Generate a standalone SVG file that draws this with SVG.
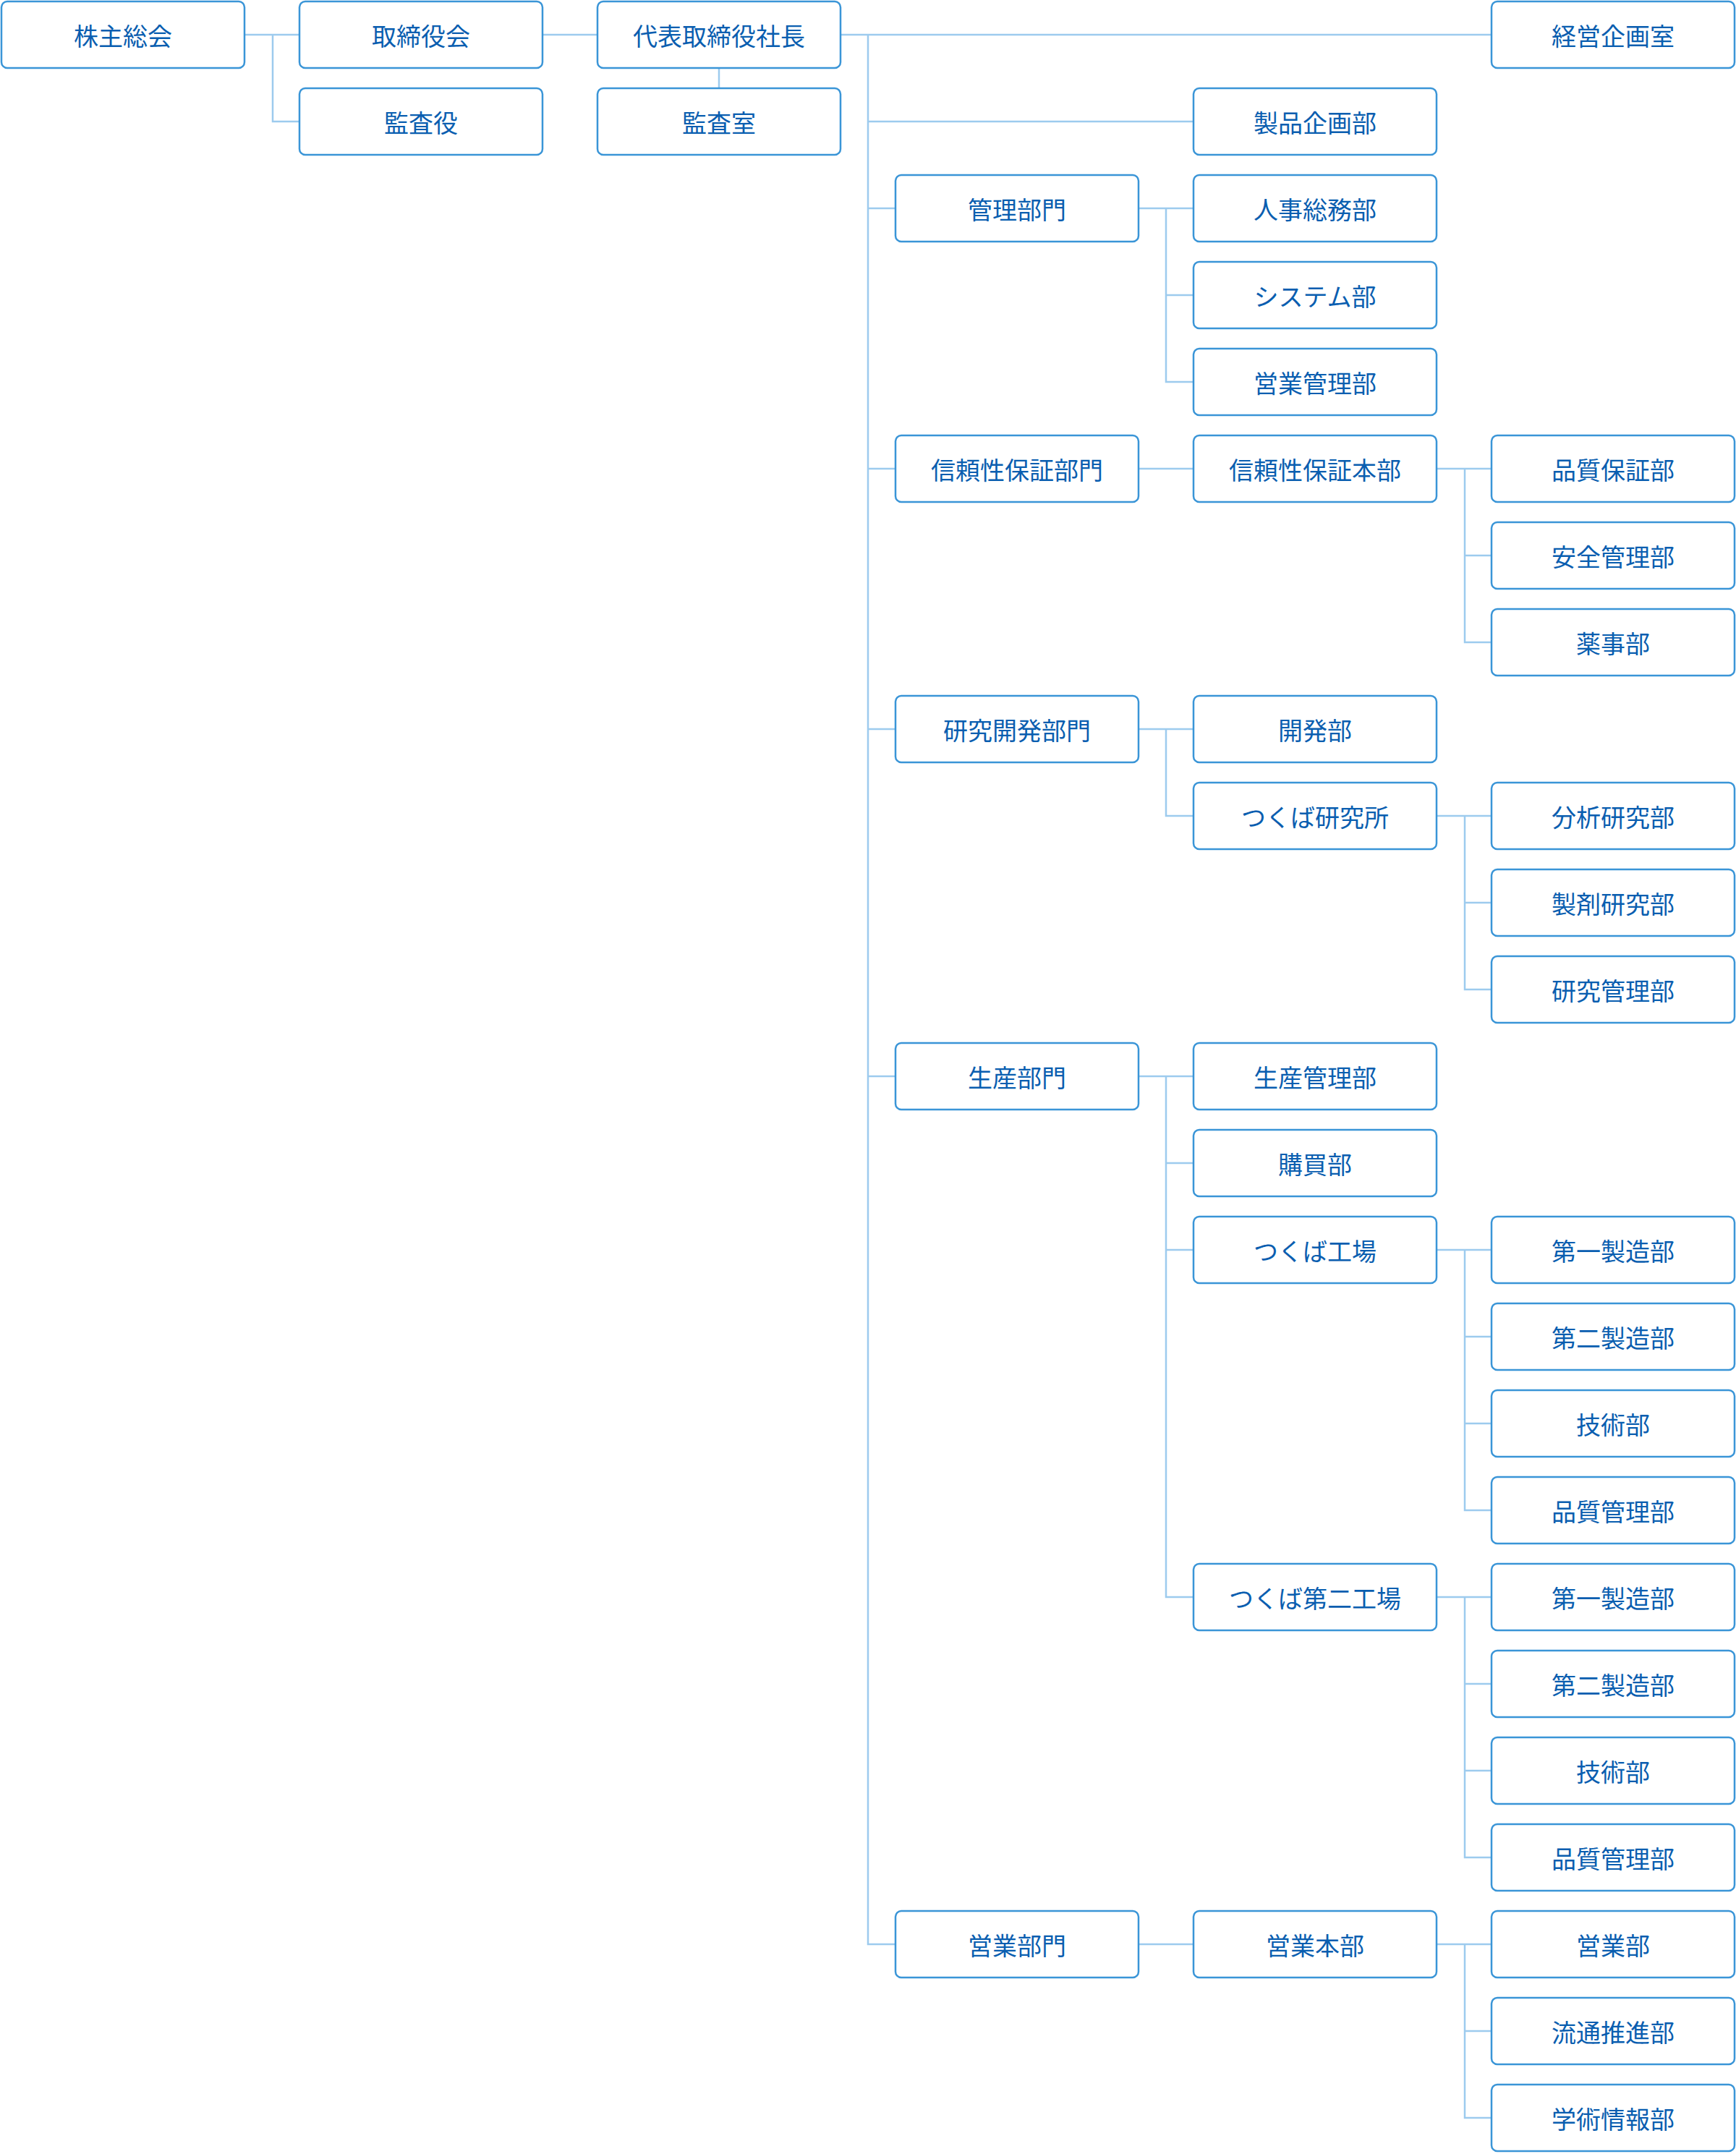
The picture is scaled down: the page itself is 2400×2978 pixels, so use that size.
<svg xmlns="http://www.w3.org/2000/svg" width="2400" height="2978" viewBox="0 0 2400 2978">
<style>
.b rect{fill:#fff;stroke:#3a95d7;stroke-width:2.5}
.b text{font-family:"Noto Sans CJK JP","Noto Sans CJK SC",sans-serif;font-size:34px;fill:#0a5eb0;text-anchor:middle;dominant-baseline:central}
#connectors path{fill:none;stroke:#9dcbee;stroke-width:2.5}
</style>
<rect width="2400" height="2978" fill="#fff"/>
<g id="connectors">
<path d="M339 48H413M377 48V168H413"/>
<path d="M751 48H825"/>
<path d="M994 95V121"/>
<path d="M1163 48H2061M1200 48V2688H1237M1200 168H1649M1200 288H1237M1200 648H1237M1200 1008H1237M1200 1488H1237"/>
<path d="M1575 288H1649M1612 288V528H1649M1612 408H1649"/>
<path d="M1575 648H1649"/>
<path d="M1575 1008H1649M1612 1008V1128H1649"/>
<path d="M1575 1488H1649M1612 1488V2208H1649M1612 1608H1649M1612 1728H1649"/>
<path d="M1575 2688H1649"/>
<path d="M1987 648H2061M2025 648V888H2061M2025 768H2061"/>
<path d="M1987 1128H2061M2025 1128V1368H2061M2025 1248H2061"/>
<path d="M1987 1728H2061M2025 1728V2088H2061M2025 1848H2061M2025 1968H2061"/>
<path d="M1987 2208H2061M2025 2208V2568H2061M2025 2328H2061M2025 2448H2061"/>
<path d="M1987 2688H2061M2025 2688V2928H2061M2025 2808H2061"/>
</g>
<g id="n-kabunushi" class="b"><rect x="2" y="2" width="336" height="92" rx="8"/><text x="170" y="48">株主総会</text></g>
<g id="n-torishimariyakukai" class="b"><rect x="414" y="2" width="336" height="92" rx="8"/><text x="582" y="48">取締役会</text></g>
<g id="n-kansayaku" class="b"><rect x="414" y="122" width="336" height="92" rx="8"/><text x="582" y="168">監査役</text></g>
<g id="n-shacho" class="b"><rect x="826" y="2" width="336" height="92" rx="8"/><text x="994" y="48">代表取締役社長</text></g>
<g id="n-kansashitsu" class="b"><rect x="826" y="122" width="336" height="92" rx="8"/><text x="994" y="168">監査室</text></g>
<g id="n-keiei" class="b"><rect x="2062" y="2" width="336" height="92" rx="8"/><text x="2230" y="48">経営企画室</text></g>
<g id="n-seihinkikaku" class="b"><rect x="1650" y="122" width="336" height="92" rx="8"/><text x="1818" y="168">製品企画部</text></g>
<g id="n-kanri" class="b"><rect x="1238" y="242" width="336" height="92" rx="8"/><text x="1406" y="288">管理部門</text></g>
<g id="n-jinji" class="b"><rect x="1650" y="242" width="336" height="92" rx="8"/><text x="1818" y="288">人事総務部</text></g>
<g id="n-system" class="b"><rect x="1650" y="362" width="336" height="92" rx="8"/><text x="1818" y="408">システム部</text></g>
<g id="n-eigyokanri" class="b"><rect x="1650" y="482" width="336" height="92" rx="8"/><text x="1818" y="528">営業管理部</text></g>
<g id="n-shinrai" class="b"><rect x="1238" y="602" width="336" height="92" rx="8"/><text x="1406" y="648">信頼性保証部門</text></g>
<g id="n-shinraihonbu" class="b"><rect x="1650" y="602" width="336" height="92" rx="8"/><text x="1818" y="648">信頼性保証本部</text></g>
<g id="n-hinshitsuhosho" class="b"><rect x="2062" y="602" width="336" height="92" rx="8"/><text x="2230" y="648">品質保証部</text></g>
<g id="n-anzen" class="b"><rect x="2062" y="722" width="336" height="92" rx="8"/><text x="2230" y="768">安全管理部</text></g>
<g id="n-yakuji" class="b"><rect x="2062" y="842" width="336" height="92" rx="8"/><text x="2230" y="888">薬事部</text></g>
<g id="n-kenkyu" class="b"><rect x="1238" y="962" width="336" height="92" rx="8"/><text x="1406" y="1008">研究開発部門</text></g>
<g id="n-kaihatsu" class="b"><rect x="1650" y="962" width="336" height="92" rx="8"/><text x="1818" y="1008">開発部</text></g>
<g id="n-tsukubakenkyujo" class="b"><rect x="1650" y="1082" width="336" height="92" rx="8"/><text x="1818" y="1128">つくば研究所</text></g>
<g id="n-bunseki" class="b"><rect x="2062" y="1082" width="336" height="92" rx="8"/><text x="2230" y="1128">分析研究部</text></g>
<g id="n-seizai" class="b"><rect x="2062" y="1202" width="336" height="92" rx="8"/><text x="2230" y="1248">製剤研究部</text></g>
<g id="n-kenkyukanri" class="b"><rect x="2062" y="1322" width="336" height="92" rx="8"/><text x="2230" y="1368">研究管理部</text></g>
<g id="n-seisan" class="b"><rect x="1238" y="1442" width="336" height="92" rx="8"/><text x="1406" y="1488">生産部門</text></g>
<g id="n-seisankanri" class="b"><rect x="1650" y="1442" width="336" height="92" rx="8"/><text x="1818" y="1488">生産管理部</text></g>
<g id="n-kobai" class="b"><rect x="1650" y="1562" width="336" height="92" rx="8"/><text x="1818" y="1608">購買部</text></g>
<g id="n-kojo1" class="b"><rect x="1650" y="1682" width="336" height="92" rx="8"/><text x="1818" y="1728">つくば工場</text></g>
<g id="n-k1-seizo1" class="b"><rect x="2062" y="1682" width="336" height="92" rx="8"/><text x="2230" y="1728">第一製造部</text></g>
<g id="n-k1-seizo2" class="b"><rect x="2062" y="1802" width="336" height="92" rx="8"/><text x="2230" y="1848">第二製造部</text></g>
<g id="n-k1-gijutsu" class="b"><rect x="2062" y="1922" width="336" height="92" rx="8"/><text x="2230" y="1968">技術部</text></g>
<g id="n-k1-hinshitsu" class="b"><rect x="2062" y="2042" width="336" height="92" rx="8"/><text x="2230" y="2088">品質管理部</text></g>
<g id="n-kojo2" class="b"><rect x="1650" y="2162" width="336" height="92" rx="8"/><text x="1818" y="2208">つくば第二工場</text></g>
<g id="n-k2-seizo1" class="b"><rect x="2062" y="2162" width="336" height="92" rx="8"/><text x="2230" y="2208">第一製造部</text></g>
<g id="n-k2-seizo2" class="b"><rect x="2062" y="2282" width="336" height="92" rx="8"/><text x="2230" y="2328">第二製造部</text></g>
<g id="n-k2-gijutsu" class="b"><rect x="2062" y="2402" width="336" height="92" rx="8"/><text x="2230" y="2448">技術部</text></g>
<g id="n-k2-hinshitsu" class="b"><rect x="2062" y="2522" width="336" height="92" rx="8"/><text x="2230" y="2568">品質管理部</text></g>
<g id="n-eigyobumon" class="b"><rect x="1238" y="2642" width="336" height="92" rx="8"/><text x="1406" y="2688">営業部門</text></g>
<g id="n-eigyohonbu" class="b"><rect x="1650" y="2642" width="336" height="92" rx="8"/><text x="1818" y="2688">営業本部</text></g>
<g id="n-eigyobu" class="b"><rect x="2062" y="2642" width="336" height="92" rx="8"/><text x="2230" y="2688">営業部</text></g>
<g id="n-ryutsu" class="b"><rect x="2062" y="2762" width="336" height="92" rx="8"/><text x="2230" y="2808">流通推進部</text></g>
<g id="n-gakujutsu" class="b"><rect x="2062" y="2882" width="336" height="92" rx="8"/><text x="2230" y="2928">学術情報部</text></g>
</svg>
